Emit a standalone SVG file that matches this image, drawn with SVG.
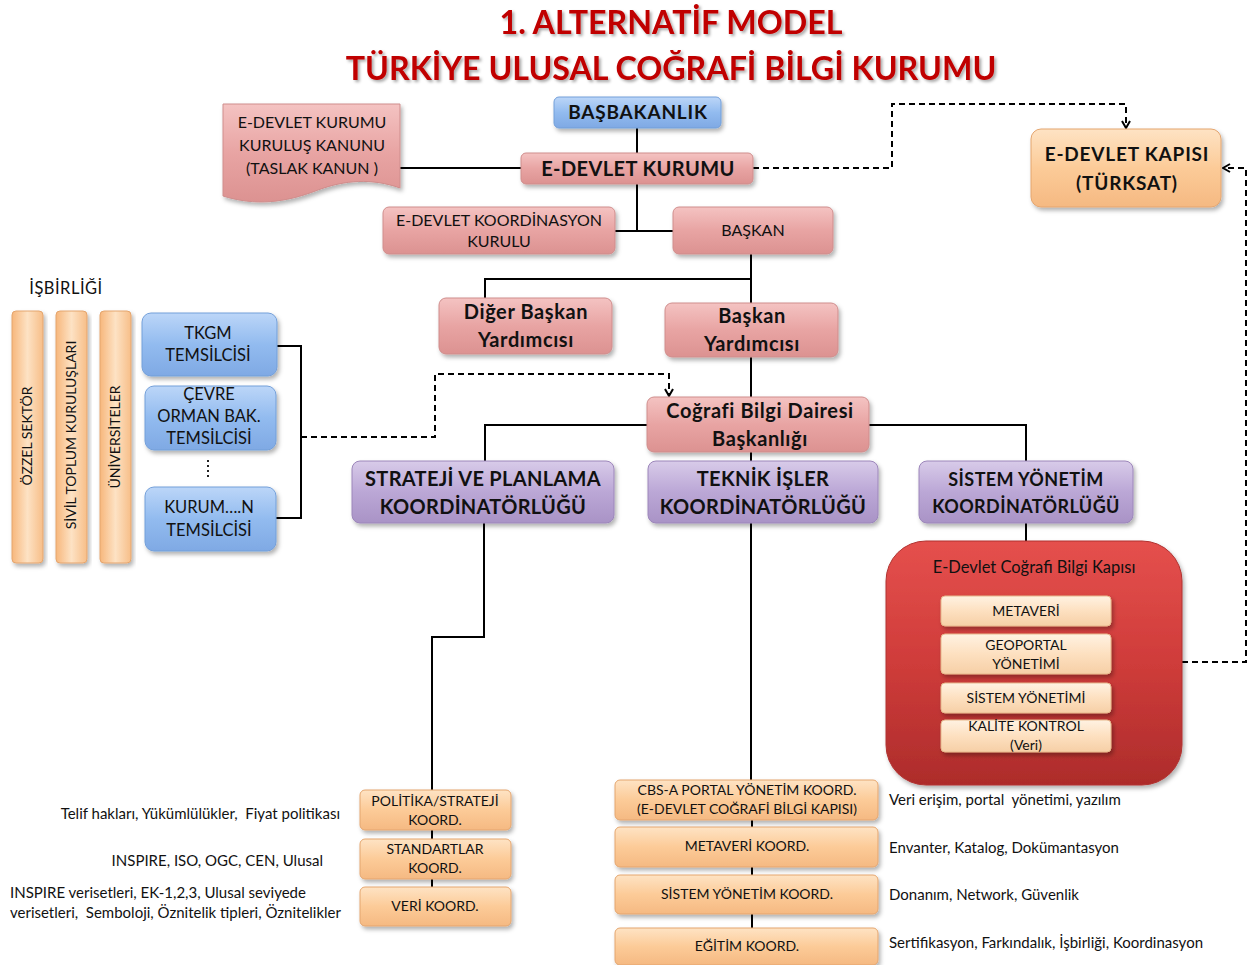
<svg xmlns="http://www.w3.org/2000/svg" width="1250" height="965" viewBox="0 0 1250 965">
  <defs>
    <linearGradient id="gPink" x1="0" y1="0" x2="0" y2="1">
      <stop offset="0" stop-color="#f4c3c2"/>
      <stop offset="0.5" stop-color="#e8a4a3"/>
      <stop offset="1" stop-color="#dc9291"/>
    </linearGradient>
    <linearGradient id="gBlue" x1="0" y1="0" x2="0" y2="1">
      <stop offset="0" stop-color="#bcd6f8"/>
      <stop offset="0.5" stop-color="#92bbef"/>
      <stop offset="1" stop-color="#7fa9e4"/>
    </linearGradient>
    <linearGradient id="gPurple" x1="0" y1="0" x2="0" y2="1">
      <stop offset="0" stop-color="#d8cbe9"/>
      <stop offset="0.5" stop-color="#bba7d6"/>
      <stop offset="1" stop-color="#a993c6"/>
    </linearGradient>
    <linearGradient id="gOrange" x1="0" y1="0" x2="0" y2="1">
      <stop offset="0" stop-color="#fee3c4"/>
      <stop offset="0.5" stop-color="#fccb98"/>
      <stop offset="1" stop-color="#f5b982"/>
    </linearGradient>
    <linearGradient id="gBar" x1="0" y1="0" x2="1" y2="0">
      <stop offset="0" stop-color="#f7b77c"/>
      <stop offset="0.5" stop-color="#fde2c4"/>
      <stop offset="1" stop-color="#f7be88"/>
    </linearGradient>
    <linearGradient id="gCream" x1="0" y1="0" x2="0" y2="1">
      <stop offset="0" stop-color="#fff2e2"/>
      <stop offset="0.5" stop-color="#fde0c0"/>
      <stop offset="1" stop-color="#f6cfa6"/>
    </linearGradient>
    <linearGradient id="gRed" x1="0" y1="0" x2="0" y2="1">
      <stop offset="0" stop-color="#e5504d"/>
      <stop offset="0.5" stop-color="#cf3c3a"/>
      <stop offset="1" stop-color="#ad2c2b"/>
    </linearGradient>
    <filter id="shadow" x="-10%" y="-20%" width="125%" height="150%">
      <feDropShadow dx="2" dy="3" stdDeviation="2" flood-color="#000" flood-opacity="0.3"/>
    </filter>
    <filter id="tshadow" x="-5%" y="-20%" width="110%" height="150%">
      <feDropShadow dx="2" dy="2" stdDeviation="1.5" flood-color="#000" flood-opacity="0.35"/>
    </filter>
    <marker id="arrow" viewBox="0 0 10 10" refX="9" refY="5" markerWidth="10" markerHeight="10" markerUnits="userSpaceOnUse" orient="auto">
      <path d="M2,1 L9,5 L2,9" fill="none" stroke="#000" stroke-width="2"/>
    </marker>
  </defs>
  <style>
    text { font-family: Lato, "Open Sans", "Liberation Sans", sans-serif; fill: #111; text-anchor: middle; }
    .title { font-size: 32.2px; font-weight: bold; fill: #c00000; }
    .pink { fill: url(#gPink); stroke: #cf8d8c; stroke-width: 1; filter: url(#shadow); }
    .blue { fill: url(#gBlue); stroke: #739fd9; stroke-width: 1; filter: url(#shadow); }
    .purple { fill: url(#gPurple); stroke: #9c86ba; stroke-width: 1; filter: url(#shadow); }
    .orange { fill: url(#gOrange); stroke: #e4a56e; stroke-width: 1; filter: url(#shadow); }
    .bar { fill: url(#gBar); stroke: #e4a56e; stroke-width: 1; filter: url(#shadow); }
    .cream { fill: url(#gCream); stroke: #e6b88c; stroke-width: 1; filter: url(#shadow); }
    .red { fill: url(#gRed); stroke: #b03230; stroke-width: 1; filter: url(#shadow); }
    .big { font-size: 20px; font-weight: bold; letter-spacing: 0.6px; }
    .coord { font-size: 20px; font-weight: bold; letter-spacing: 0.3px; }
    .coord2 { font-size: 18px; font-weight: bold; letter-spacing: 0.4px; }
    .hd { font-size: 19px; font-weight: bold; letter-spacing: 0.8px; }
    .n16 { font-size: 16px; }
    .n165 { font-size: 16.5px; }
    .s14 { font-size: 14px; }
    .v14 { font-size: 14px; }
    .note { font-size: 15px; }
    .lft { text-anchor: start; }
    .rgt { text-anchor: end; }
    .line { fill: none; stroke: #000; stroke-width: 2; }
    .dash { fill: none; stroke: #000; stroke-width: 2; stroke-dasharray: 6 4; }
    .dots { fill: none; stroke: #222; stroke-width: 2; stroke-dasharray: 2 3; }
  </style>

  <!-- heading -->
  <g id="title" filter="url(#tshadow)">
    <text class="title" x="671" y="34">1. ALTERNATİF MODEL</text>
    <text class="title" x="671" y="80">TÜRKİYE ULUSAL COĞRAFİ BİLGİ KURUMU</text>
  </g>

  <!-- connectors -->
  <g id="connectors">
    <path class="line" d="M637,128 V153"/>
    <path class="line" d="M400,168 H521"/>
    <path class="line" d="M637,184 V231 M615,231 H673"/>
    <path class="line" d="M751,254 V303 M751,279 H485 V299"/>
    <path class="line" d="M751,357 V397"/>
    <path class="line" d="M647,425 H485 V461"/>
    <path class="line" d="M869,425 H1026 V461"/>
    <path class="line" d="M751,452 V461"/>
    <path class="line" d="M484,523 V637 H432 V790"/>
    <path class="line" d="M432,830 V839 M432,879 V887"/>
    <path class="line" d="M751,523 V780"/>
    <path class="line" d="M752,820 V827 M752,867 V875 M752,914 V928"/>
    <path class="line" d="M1026,523 V541"/>
    <path class="line" d="M277,346 H301 V518 H276"/>
    <path class="dash" d="M301,437 H435 V374 H669 V396" marker-end="url(#arrow)"/>
    <path class="dash" d="M753,168 H892 V104 H1126 V128" marker-end="url(#arrow)"/>
    <path class="dash" d="M1182,662 H1246 V168 H1223" marker-end="url(#arrow)"/>
  </g>

  <!-- top of the hierarchy -->
  <g id="basbakanlik">
    <rect class="blue" x="554" y="97" width="167" height="31" rx="5"/>
    <text class="hd" x="638" y="119">BAŞBAKANLIK</text>
  </g>
  <g id="edevlet-kurumu">
    <rect class="pink" x="521" y="153" width="232" height="31" rx="5"/>
    <text class="big" x="638" y="176" style="letter-spacing:0.4px">E-DEVLET KURUMU</text>
  </g>
  <g id="kanun">
    <path class="pink" d="M223,104 H400 V188 C372,178 345,180 318,190 C285,203 255,206 223,196 Z"/>
    <text class="n16" x="312" y="128">E-DEVLET KURUMU</text>
    <text class="n16" x="312" y="151">KURULUŞ KANUNU</text>
    <text class="n16" x="312" y="174">(TASLAK KANUN )</text>
  </g>
  <g id="koordinasyon-kurulu">
    <rect class="pink" x="383" y="207" width="232" height="47" rx="6"/>
    <text class="n16" x="499" y="226">E-DEVLET KOORDİNASYON</text>
    <text class="n16" x="499" y="247">KURULU</text>
  </g>
  <g id="baskan">
    <rect class="pink" x="673" y="207" width="160" height="47" rx="6"/>
    <text class="n16" x="753" y="236">BAŞKAN</text>
  </g>
  <g id="diger-baskan-yrd">
    <rect class="pink" x="439" y="298" width="173" height="56" rx="7"/>
    <text class="big" x="526" y="319">Diğer Başkan</text>
    <text class="big" x="526" y="347">Yardımcısı</text>
  </g>
  <g id="baskan-yrd">
    <rect class="pink" x="665" y="303" width="173" height="54" rx="7"/>
    <text class="big" x="752" y="323">Başkan</text>
    <text class="big" x="752" y="351">Yardımcısı</text>
  </g>
  <g id="cbd-baskanligi">
    <rect class="pink" x="647" y="397" width="222" height="55" rx="7"/>
    <text class="big" x="760" y="418">Coğrafi Bilgi Dairesi</text>
    <text class="big" x="760" y="446">Başkanlığı</text>
  </g>
  <g id="edevlet-kapisi">
    <rect class="orange" x="1031" y="129" width="190" height="78" rx="10"/>
    <text class="hd" x="1127" y="161">E-DEVLET KAPISI</text>
    <text class="hd" x="1127" y="190">(TÜRKSAT)</text>
  </g>

  <!-- cooperation column -->
  <g id="isbirligi">
    <text class="n165" x="66" y="294" style="letter-spacing:0.5px">İŞBİRLİĞİ</text>
  </g>
  <g id="ozel-sektor">
    <rect class="bar" x="12" y="311" width="31" height="252" rx="4"/>
    <text class="v14" transform="translate(32,436) rotate(-90)">ÖZZEL SEKTÖR</text>
  </g>
  <g id="stk">
    <rect class="bar" x="56" y="311" width="31" height="252" rx="4"/>
    <text class="v14" transform="translate(76,435) rotate(-90)">SİVİL TOPLUM KURULUŞLARI</text>
  </g>
  <g id="universiteler">
    <rect class="bar" x="100" y="311" width="31" height="252" rx="4"/>
    <text class="v14" transform="translate(120,437) rotate(-90)">ÜNİVERSİTELER</text>
  </g>
  <g id="tkgm">
    <rect class="blue" x="142" y="313" width="135" height="63" rx="9"/>
    <text class="n165" x="208" y="339">TKGM</text>
    <text class="n165" x="208" y="361">TEMSİLCİSİ</text>
  </g>
  <g id="cevre">
    <rect class="blue" x="145" y="386" width="131" height="64" rx="9"/>
    <text class="n165" x="209" y="400">ÇEVRE</text>
    <text class="n165" x="209" y="422">ORMAN BAK.</text>
    <text class="n165" x="209" y="444">TEMSİLCİSİ</text>
  </g>
  <!-- vertical ellipsis between the representative boxes -->
  <g id="ara-kurumlar">
    <path class="dots" d="M208,460 V479"/>
  </g>
  <g id="kurum-n">
    <rect class="blue" x="145" y="487" width="131" height="64" rx="9"/>
    <text class="n165" x="209" y="513">KURUM….N</text>
    <text class="n165" x="209" y="536">TEMSİLCİSİ</text>
  </g>

  <!-- coordinator offices -->
  <g id="strateji">
    <rect class="purple" x="352" y="461" width="262" height="62" rx="8"/>
    <text class="coord" x="483" y="486">STRATEJİ VE PLANLAMA</text>
    <text class="coord" x="483" y="514">KOORDİNATÖRLÜĞÜ</text>
  </g>
  <g id="teknik">
    <rect class="purple" x="648" y="461" width="230" height="62" rx="8"/>
    <text class="coord" x="763" y="486">TEKNİK İŞLER</text>
    <text class="coord" x="763" y="514">KOORDİNATÖRLÜĞÜ</text>
  </g>
  <g id="sistem">
    <rect class="purple" x="919" y="461" width="214" height="62" rx="8"/>
    <text class="coord2" x="1026" y="486">SİSTEM YÖNETİM</text>
    <text class="coord2" x="1026" y="513">KOORDİNATÖRLÜĞÜ</text>
  </g>

  <!-- geographic information portal -->
  <g id="cbs-kapisi">
    <rect class="red" x="886" y="541" width="296" height="244" rx="40"/>
    <text class="n165" x="1034" y="573">E-Devlet Coğrafi Bilgi Kapısı</text>
  </g>
  <g id="kapi-metaveri">
    <rect class="cream" x="941" y="596" width="170" height="30" rx="4"/>
    <text class="s14" x="1026" y="616">METAVERİ</text>
  </g>
  <g id="kapi-geoportal">
    <rect class="cream" x="941" y="634" width="170" height="40" rx="4"/>
    <text class="s14" x="1026" y="650">GEOPORTAL</text>
    <text class="s14" x="1026" y="669">YÖNETİMİ</text>
  </g>
  <g id="kapi-sistem">
    <rect class="cream" x="941" y="683" width="170" height="30" rx="4"/>
    <text class="s14" x="1026" y="703">SİSTEM YÖNETİMİ</text>
  </g>
  <g id="kapi-kalite">
    <rect class="cream" x="941" y="720" width="170" height="32" rx="4"/>
    <text class="s14" x="1026" y="731">KALİTE KONTROL</text>
    <text class="s14" x="1026" y="750">(Veri)</text>
  </g>

  <!-- strategy sub-units -->
  <g id="politika">
    <rect class="orange" x="360" y="790" width="151" height="40" rx="5"/>
    <text class="s14" x="435" y="806">POLİTİKA/STRATEJİ</text>
    <text class="s14" x="435" y="825">KOORD.</text>
  </g>
  <g id="standartlar">
    <rect class="orange" x="360" y="839" width="151" height="40" rx="5"/>
    <text class="s14" x="435" y="854">STANDARTLAR</text>
    <text class="s14" x="435" y="873">KOORD.</text>
  </g>
  <g id="veri">
    <rect class="orange" x="360" y="887" width="151" height="39" rx="5"/>
    <text class="s14" x="435" y="911">VERİ KOORD.</text>
  </g>
  <g id="notes-left">
    <text class="note rgt" x="340" y="819">Telif hakları, Yükümlülükler,&#160; Fiyat politikası</text>
    <text class="note rgt" x="323" y="866">INSPIRE, ISO, OGC, CEN, Ulusal</text>
    <text class="note lft" x="10" y="898">INSPIRE verisetleri, EK-1,2,3, Ulusal seviyede</text>
    <text class="note lft" x="10" y="918">verisetleri,&#160; Semboloji, Öznitelik tipleri, Öznitelikler</text>
  </g>

  <!-- technical sub-units -->
  <g id="cbs-portal">
    <rect class="orange" x="615" y="780" width="263" height="40" rx="5"/>
    <text class="s14" x="747" y="795">CBS-A PORTAL YÖNETİM KOORD.</text>
    <text class="s14" x="747" y="814">(E-DEVLET COĞRAFİ BİLGİ KAPISI)</text>
  </g>
  <g id="metaveri-koord">
    <rect class="orange" x="615" y="827" width="263" height="40" rx="5"/>
    <text class="s14" x="747" y="851">METAVERİ KOORD.</text>
  </g>
  <g id="sistem-koord">
    <rect class="orange" x="615" y="875" width="263" height="39" rx="5"/>
    <text class="s14" x="747" y="899">SİSTEM YÖNETİM KOORD.</text>
  </g>
  <g id="egitim-koord">
    <rect class="orange" x="615" y="928" width="263" height="37" rx="5"/>
    <text class="s14" x="747" y="951">EĞİTİM KOORD.</text>
  </g>
  <g id="notes-right">
    <text class="note lft" x="889" y="805">Veri erişim, portal&#160; yönetimi, yazılım</text>
    <text class="note lft" x="889" y="853">Envanter, Katalog, Dokümantasyon</text>
    <text class="note lft" x="889" y="900">Donanım, Network, Güvenlik</text>
    <text class="note lft" x="889" y="948">Sertifikasyon, Farkındalık, İşbirliği, Koordinasyon</text>
  </g>
</svg>
